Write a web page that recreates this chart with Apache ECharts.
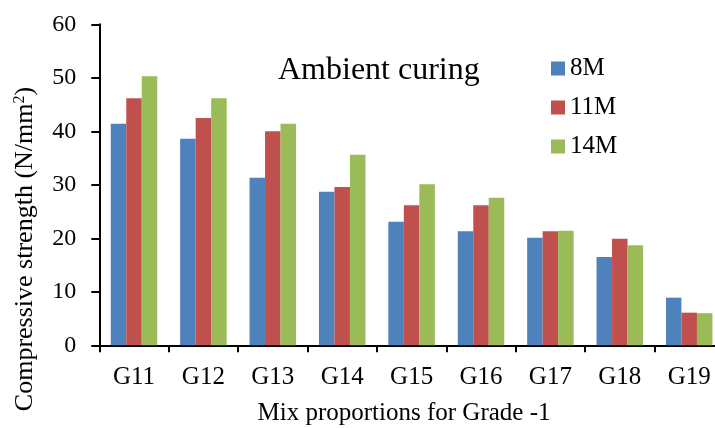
<!DOCTYPE html>
<html>
<head>
<meta charset="utf-8">
<script src="https://cdn.jsdelivr.net/npm/echarts@6/dist/echarts.min.js"></script>
<style>html,body{margin:0;padding:0;background:#fff;}#c{width:715px;height:428px;}</style>
</head>
<body>
<div id="c"></div>
<script>
const categories = ['G11','G12','G13','G14','G15','G16','G17','G18','G19'];
const seriesNames = ['8M','11M','14M'];
const values8M  = [41.4, 38.6, 31.3, 28.7, 23.1, 21.3, 20.1, 16.5, 8.9];
const values11M = [46.2, 42.5, 40.0, 29.6, 26.2, 26.2, 21.3, 19.9, 6.1];
const values14M = [50.3, 46.2, 41.4, 35.6, 30.1, 27.6, 21.4, 18.7, 6.0];
const yTicks = [0, 10, 20, 30, 40, 50, 60];
const colors = ['#4F81BD', '#C0504D', '#9BBB59'];

const font = '"Liberation Serif", "Times New Roman", serif';
const chart = echarts.init(document.getElementById('c'), null, {renderer: 'canvas'});
const allValues = [values8M, values11M, values14M];
chart.setOption({
  animation: false,
  textStyle: {fontFamily: font},
  grid: {left: 99.3, top: 24.3, width: 624.6, bottom: 82.7, containLabel: false, outerBoundsMode: 'none'},
  legend: {
    orient: 'vertical', left: 551, top: 56, padding: 0,
    itemWidth: 14, itemHeight: 14, itemGap: 14,
    icon: 'rect',
    textStyle: {fontFamily: font, fontSize: 25, color: '#000', lineHeight: 25},
    data: seriesNames
  },
  xAxis: {
    type: 'category', data: categories,
    axisLine: {lineStyle: {color: '#000', width: 2}},
    axisTick: {show: true, length: 7, lineStyle: {color: '#000', width: 2}},
    axisLabel: {fontFamily: font, fontSize: 25, color: '#000', margin: 20}
  },
  yAxis: {
    type: 'value', min: yTicks[0], max: yTicks[yTicks.length-1], interval: 10,
    splitLine: {show: false},
    axisLine: {show: true, lineStyle: {color: '#000', width: 2}},
    axisTick: {show: true, length: 8, lineStyle: {color: '#000', width: 2}},
    axisLabel: {fontFamily: font, fontSize: 24, color: '#000', margin: 23}
  },
  series: seriesNames.map((n, i) => ({
    name: n, type: 'bar', data: allValues[i],
    barGap: '0%', barCategoryGap: '33%',
    itemStyle: {color: colors[i]}
  })),
  graphic: [
    {type: 'text', x: 278, y: 71, style: {text: 'Ambient curing', font: '32px ' + font, fill: '#000', align: 'left', verticalAlign: 'middle'}},
    {type: 'text', x: 404, y: 413, style: {text: 'Mix proportions for Grade -1', font: '25px ' + font, fill: '#000', align: 'center', verticalAlign: 'middle'}},
    {type: 'text', x: 25, y: 249, rotation: Math.PI/2,
     style: {text: 'Compressive strength (N/mm{s|2})', font: '26px ' + font, fill: '#000', align: 'center', verticalAlign: 'middle',
       rich: {s: {fontSize: 16, fontFamily: font, fill: '#000', verticalAlign: 'top', padding: [0,0,10,0]}}}}
  ]
});
</script>
</body>
</html>
